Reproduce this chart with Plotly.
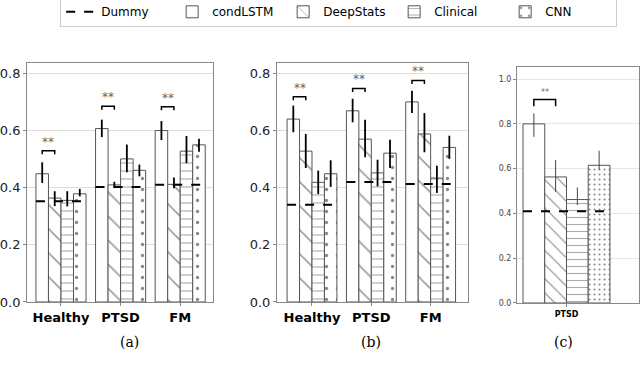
import plotly.graph_objects as go

# ==========================================
# Data
# ==========================================
groups = ["Healthy", "PTSD", "FM"]
models = ["condLSTM", "DeepStats", "Clinical", "CNN"]

# panel (a): one list per model, one value per group
a_vals = [[0.448, 0.606, 0.599],
          [0.363, 0.409, 0.411],
          [0.355, 0.500, 0.527],
          [0.378, 0.460, 0.549]]
a_lo = [[0.416, 0.576, 0.566],
        [0.335, 0.398, 0.397],
        [0.334, 0.453, 0.485],
        [0.369, 0.439, 0.525]]
a_hi = [[0.488, 0.637, 0.632],
        [0.387, 0.420, 0.435],
        [0.387, 0.550, 0.580],
        [0.395, 0.480, 0.570]]
a_dummy = [0.352, 0.402, 0.410]
a_sig = [0.528, 0.684, 0.682]

# panel (b)
b_vals = [[0.639, 0.668, 0.699],
          [0.527, 0.569, 0.587],
          [0.418, 0.451, 0.433],
          [0.448, 0.520, 0.540]]
b_lo = [[0.593, 0.628, 0.660],
        [0.468, 0.506, 0.523],
        [0.377, 0.404, 0.381],
        [0.402, 0.468, 0.500]]
b_hi = [[0.686, 0.710, 0.738],
        [0.587, 0.637, 0.660],
        [0.459, 0.497, 0.476],
        [0.495, 0.567, 0.581]]
b_dummy = [0.340, 0.419, 0.412]
b_sig = [0.717, 0.746, 0.774]

# panel (c): PTSD only
c_groups = ["PTSD"]
c_vals = [[0.80], [0.563], [0.462], [0.615]]
c_lo = [[0.742], [0.496], [0.437], [0.596]]
c_hi = [[0.847], [0.638], [0.516], [0.680]]
c_dummy = [0.41]
c_sig = [0.909]

# ==========================================
# Styling
# ==========================================
BARGAP = 0.16
GW = 1 - BARGAP          # group width in axis units
BW = GW / 4              # single bar width

big_patterns = [dict(shape=""),
                dict(shape="\\", size=17, solidity=0.09, fgcolor="#333"),
                dict(shape="-", size=8, solidity=0.14, fgcolor="#555"),
                dict(shape=".", size=11, solidity=0.07, fgcolor="#111")]
small_patterns = [dict(shape=""),
                  dict(shape="\\", size=10, solidity=0.12, fgcolor="#333"),
                  dict(shape="-", size=7, solidity=0.16, fgcolor="#555"),
                  dict(shape=".", size=5, solidity=0.14, fgcolor="#111")]

fig = go.Figure()


def add_panel(xa, ya, vals, lo, hi, dummy, sig, patterns, n, legend,
              err_w, err_col, sig_drop, star_size):
    x = list(range(n))
    for k, m in enumerate(models):
        fig.add_trace(go.Bar(
            x=x, y=vals[k], name=m,
            xaxis=xa, yaxis=ya,
            marker=dict(color="white", line=dict(color="#555", width=1),
                        pattern=patterns[k]),
            error_y=dict(type="data", symmetric=False,
                         array=[h - v for h, v in zip(hi[k], vals[k])],
                         arrayminus=[v - l for l, v in zip(lo[k], vals[k])],
                         width=0, thickness=err_w, color=err_col),
            showlegend=legend, legendrank=k + 2
        ))
    # dummy baseline spanning each group
    dx, dy = [], []
    for i, d in enumerate(dummy):
        dx += [i - GW / 2, i + GW / 2, None]
        dy += [d, d, None]
    fig.add_trace(go.Scatter(
        x=dx, y=dy, mode="lines", name="Dummy",
        xaxis=xa, yaxis=ya,
        line=dict(color="black", width=2, dash="dash"),
        showlegend=legend, legendrank=1
    ))
    # significance brackets condLSTM vs DeepStats
    sx, sy = [], []
    for i, s in enumerate(sig):
        x0 = i - GW / 2 + BW / 2
        x1 = x0 + BW
        sx += [x0, x0, x1, x1, None]
        sy += [s - sig_drop, s, s, s - sig_drop, None]
        fig.add_annotation(x=(x0 + x1) / 2, y=s, xref=xa, yref=ya,
                           text="**", showarrow=False, yanchor="bottom",
                           yshift=0, font=dict(size=star_size, color="#666"))
    fig.add_trace(go.Scatter(
        x=sx, y=sy, mode="lines", xaxis=xa, yaxis=ya,
        line=dict(color="black", width=1.5), showlegend=False,
        hoverinfo="skip"
    ))


add_panel("x", "y", a_vals, a_lo, a_hi, a_dummy, a_sig, big_patterns, 3,
          True, 1.8, "black", 0.012, 12)
add_panel("x2", "y2", b_vals, b_lo, b_hi, b_dummy, b_sig, big_patterns, 3,
          False, 1.8, "black", 0.012, 12)
add_panel("x3", "y3", c_vals, c_lo, c_hi, c_dummy, c_sig, small_patterns, 1,
          False, 1, "#444", 0.03, 8)

big_x = dict(showline=True, mirror=True, linecolor="#888", linewidth=1,
             ticks="outside", ticklen=3, tickcolor="#888",
             tickvals=[0, 1, 2], ticktext=[f"<b>{g}</b>" for g in groups],
             tickfont=dict(family="DejaVu Sans", size=13, color="black"),
             showgrid=False, zeroline=False)
big_y = dict(showline=True, mirror=True, linecolor="#888", linewidth=1,
             ticks="outside", ticklen=3, tickcolor="#888",
             tickvals=[0, 0.2, 0.4, 0.6, 0.8], tickformat=".1f",
             tickfont=dict(family="DejaVu Sans", size=13, color="#222"),
             showgrid=True, gridcolor="#ddd", zeroline=False)

fig.update_layout(
    width=640, height=369,
    margin=dict(l=0, r=0, t=0, b=0, autoexpand=False),
    paper_bgcolor="white", plot_bgcolor="white",
    barmode="group", bargap=BARGAP, bargroupgap=0,
    font=dict(family="DejaVu Sans", color="black"),
    xaxis=dict(big_x, domain=[0.0422, 0.3328], range=[-0.57, 2.55],
               anchor="y"),
    yaxis=dict(big_y, domain=[0.1816, 0.8293], range=[0, 0.835],
               anchor="x"),
    xaxis2=dict(big_x, domain=[0.4328, 0.7313], range=[-0.59, 2.63],
                anchor="y2"),
    yaxis2=dict(big_y, domain=[0.1816, 0.8293], range=[0, 0.835],
                anchor="x2"),
    xaxis3=dict(big_x, domain=[0.8078, 0.9984], range=[-0.478, 0.70],
                anchor="y3", tickvals=[0],
                ticktext=[f"<b>{g}</b>" for g in c_groups],
                tickfont=dict(family="DejaVu Sans", size=8, color="black")),
    yaxis3=dict(big_y, domain=[0.1789, 0.8184], range=[0, 1.054],
                anchor="x3", tickvals=[0, 0.2, 0.4, 0.6, 0.8, 1.0],
                tickfont=dict(family="DejaVu Sans", size=8, color="#444"),
                gridcolor="#e6e6e6"),
    legend=dict(orientation="h", x=0.094, xanchor="left", y=1.01,
                yanchor="top", bordercolor="#ccc", borderwidth=1,
                bgcolor="white", itemwidth=30, tracegroupgap=0,
                entrywidth=66, entrywidthmode="pixels",
                font=dict(family="DejaVu Sans", size=12, color="black")),
)

for cx, lab in [(118, "(a)"), (371, "(b)"), (575, "(c)")]:
    fig.add_annotation(x=cx / 640, y=1 - 352 / 369, xref="paper",
                       yref="paper", text=lab, showarrow=False,
                       font=dict(family="DejaVu Serif", size=14,
                                 color="black"))

# drop the default page margin so the figure sits at the window corner
fig.write_html("out.html", config={"displayModeBar": False},
               post_script="document.body.style.margin='0';")
